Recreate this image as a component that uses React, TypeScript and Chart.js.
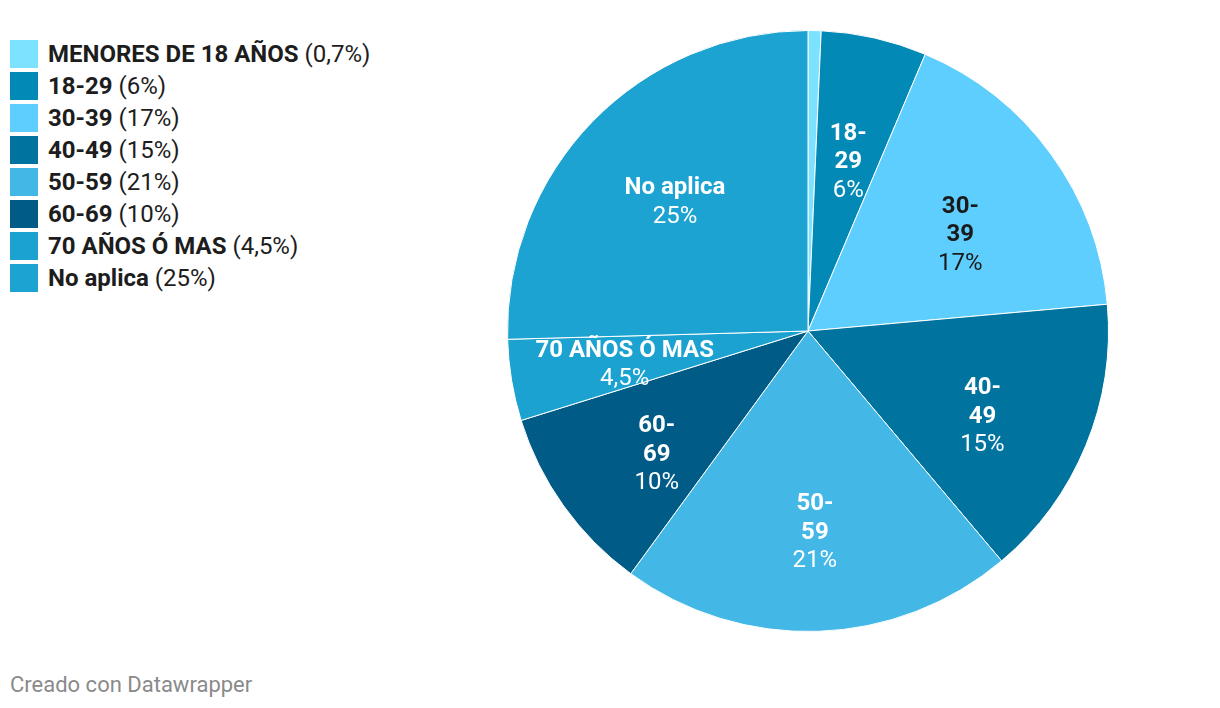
import React, { useEffect, useRef } from "react";
import { Chart, registerables } from "chart.js";

Chart.register(...registerables);

const categories = [
  "MENORES DE 18 AÑOS",
  "18-29",
  "30-39",
  "40-49",
  "50-59",
  "60-69",
  "70 AÑOS Ó MAS",
  "No aplica",
];
const values = [0.7, 5.68, 17.2, 15.28, 21.18, 10.15, 4.37, 25.44];
const valueLabels = ["0,7%", "6%", "17%", "15%", "21%", "10%", "4,5%", "25%"];

const colors = ["#7ce2ff", "#0389b5", "#5dcefd", "#00739f", "#43b7e6", "#005b86", "#1ba2d0", "#1ca3d1"];
const labelTextColors = ["#ffffff", "#ffffff", "#1a1a1a", "#ffffff", "#ffffff", "#ffffff", "#ffffff", "#ffffff"];
const labelRadiusFrac = [0, 0.585, 0.603, 0.643, 0.664, 0.645, 0.619, 0.622];
const labelAngleShift = [0, 0.5, 3.3, 3.1, 0, -3.1, -0.35, 0.4];
const showLabel = [false, true, true, true, true, true, true, true];

const FONT = "Roboto, 'Noto Sans', sans-serif";
const FS = 24;
const LH = 28.5;

const labelPlugin = {
  id: "sliceLabels",
  afterDatasetsDraw(chart: any) {
    const ctx = chart.ctx;
    const meta = chart.getDatasetMeta(0);
    meta.data.forEach((arc: any, i: number) => {
      if (!showLabel[i]) return;
      const p = arc.getProps(["x", "y", "startAngle", "endAngle", "outerRadius"], true);
      const mid = (p.startAngle + p.endAngle) / 2 + (labelAngleShift[i] * Math.PI) / 180;
      const r = p.outerRadius * labelRadiusFrac[i];
      const cx = p.x + Math.cos(mid) * r;
      const cy = p.y + Math.sin(mid) * r;
      const name = categories[i];
      const nameLines = /^\d+-\d+$/.test(name) ? [name.split("-")[0] + "-", name.split("-")[1]] : [name];
      const lines = [...nameLines.map((t) => ({ t, b: true })), { t: valueLabels[i], b: false }];
      const total = lines.length * LH;
      ctx.save();
      ctx.textAlign = "center";
      ctx.textBaseline = "alphabetic";
      ctx.fillStyle = labelTextColors[i];
      lines.forEach((ln, k) => {
        ctx.font = `${ln.b ? "bold " : ""}${FS}px ${FONT}`;
        ctx.fillText(ln.t, cx, cy - total / 2 + LH * (k + 0.5) + FS * 0.355);
      });
      ctx.restore();
    });
  },
};

export default function App() {
  const ref = useRef<HTMLCanvasElement>(null);
  useEffect(() => {
    if (!ref.current) return;
    const chart = new Chart(ref.current, {
      type: "pie",
      data: {
        labels: categories,
        datasets: [
          {
            data: values,
            backgroundColor: colors,
            borderColor: "#ffffff",
            borderWidth: 1,
          },
        ],
      },
      options: {
        animation: false,
        responsive: false,
        maintainAspectRatio: false,
        layout: { padding: 30 },
        plugins: { legend: { display: false }, tooltip: { enabled: false } },
      },
      plugins: [labelPlugin],
    });
    return () => chart.destroy();
  }, []);

  return (
    <div style={{ position: "absolute", left: 0, top: 0, width: 1220, height: 708, background: "#fff", fontFamily: FONT, overflow: "hidden" }}>
      <div style={{ position: "absolute", left: 10, top: 38 }}>
        {categories.map((c, i) => (
          <div key={c} style={{ display: "flex", alignItems: "center", height: 32 }}>
            <div style={{ width: 28, height: 28, background: colors[i], marginRight: 10, flex: "none" }} />
            <span style={{ fontSize: FS, color: "#1d1d1d", whiteSpace: "nowrap", lineHeight: "28px" }}>
              <b>{c}</b> ({valueLabels[i]})
            </span>
          </div>
        ))}
      </div>
      <canvas ref={ref} width={700} height={662} style={{ position: "absolute", left: 458, top: 0, width: 700, height: 662 }} />
      <div style={{ position: "absolute", left: 10, top: 670, fontSize: 22, color: "#8a8a8a", lineHeight: "30px" }}>
        Creado con Datawrapper
      </div>
    </div>
  );
}
